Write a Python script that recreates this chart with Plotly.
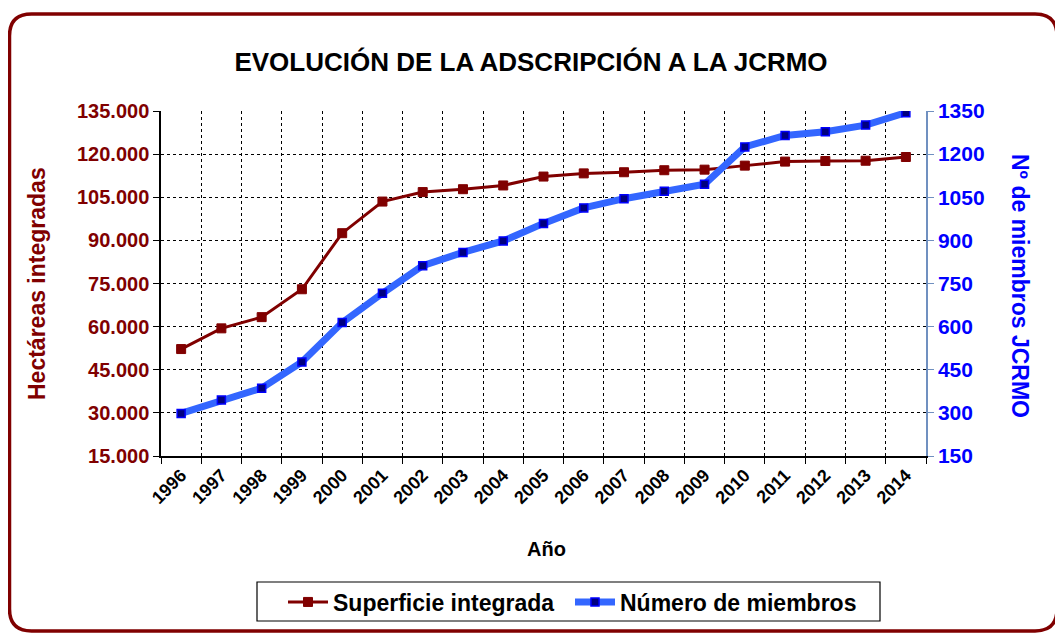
import plotly.graph_objects as go

years = [str(y) for y in range(1996, 2015)]
superficie = [52200, 59400, 63300, 73000, 92500, 103500, 106800, 107800, 109100, 112200,
              113300, 113700, 114400, 114600, 116000, 117400, 117600, 117700, 119000]
miembros = [298, 345, 386, 477, 614, 716, 812, 858, 898, 959,
            1013, 1045, 1071, 1095, 1225, 1265, 1278, 1301, 1344]

left_ticks = [15000, 30000, 45000, 60000, 75000, 90000, 105000, 120000, 135000]
left_ticktext = ["15.000", "30.000", "45.000", "60.000", "75.000", "90.000",
                 "105.000", "120.000", "135.000"]
right_ticks = [150, 300, 450, 600, 750, 900, 1050, 1200, 1350]

# page body has an 8px margin; work in reference (window) pixels and offset
OFF = 8
W, H = 1063 - OFF, 635 - OFF
L, R, T, B = 161, 926, 111, 456
FONT = "Liberation Sans, Arial, sans-serif"
DARKRED = "#800000"
BLUE = "#0000FF"

def px(x):
    return (x - L) / (R - L)

def py(y):
    return (B - y) / (B - T)

fig = go.Figure()
fig.add_trace(go.Scatter(
    x=years, y=superficie, name="Superficie integrada", mode="lines+markers",
    line=dict(color=DARKRED, width=3),
    marker=dict(symbol="square", size=9, color=DARKRED, line=dict(color=DARKRED, width=1)),
    yaxis="y"))
fig.add_trace(go.Scatter(
    x=years, y=miembros, name="Número de miembros", mode="lines+markers",
    line=dict(color="#3366FF", width=7),
    marker=dict(symbol="square", size=8, color="#000080", line=dict(color=BLUE, width=1.5)),
    yaxis="y2"))

# rounded outer border
x0, x1, y0, y1, r = 9.5, 1057, 14, 631, 22
path = (f"M {px(x0+r)},{py(y0)} L {px(x1-r)},{py(y0)} Q {px(x1)},{py(y0)} {px(x1)},{py(y0+r)} "
        f"L {px(x1)},{py(y1-r)} Q {px(x1)},{py(y1)} {px(x1-r)},{py(y1)} "
        f"L {px(x0+r)},{py(y1)} Q {px(x0)},{py(y1)} {px(x0)},{py(y1-r)} "
        f"L {px(x0)},{py(y0+r)} Q {px(x0)},{py(y0)} {px(x0+r)},{py(y0)} Z")

shapes = [
    dict(type="path", xref="paper", yref="paper", path=path,
         line=dict(color=DARKRED, width=3.5), fillcolor="rgba(0,0,0,0)", layer="above"),
    # legend frame
    dict(type="rect", xref="paper", yref="paper", x0=px(257), x1=px(880), y0=py(582), y1=py(621),
         line=dict(color="black", width=1.2), fillcolor="white", layer="below"),
]

annotations = [
    dict(text="<b>Hectáreas integradas</b>", xref="paper", yref="paper", x=px(37), y=py(284),
         textangle=-90, showarrow=False, xanchor="center", yanchor="middle",
         font=dict(family=FONT, size=23, color=DARKRED, weight="bold")),
    dict(text="<b>Nº de miembros JCRMO</b>", xref="paper", yref="paper", x=px(1020), y=py(286),
         textangle=90, showarrow=False, xanchor="center", yanchor="middle",
         font=dict(family=FONT, size=23, color=BLUE, weight="bold")),
    dict(text="<b>Año</b>", xref="paper", yref="paper", x=px(546), y=py(549),
         showarrow=False, xanchor="center", yanchor="middle",
         font=dict(family=FONT, size=20, color="black", weight="bold")),
]

fig.update_layout(
    width=W, height=H,
    margin=dict(l=L - OFF, r=W - (R - OFF), t=T - OFF, b=H - (B - OFF), autoexpand=False),
    paper_bgcolor="white", plot_bgcolor="white",
    title=dict(text="EVOLUCIÓN DE LA ADSCRIPCIÓN A LA JCRMO", x=(531 - OFF) / W, xref="container",
               y=1 - (62 - OFF) / H, yref="container", xanchor="center", yanchor="middle",
               font=dict(family=FONT, size=26, color="black", weight="bold")),
    xaxis=dict(type="category", tickson="boundaries", ticks="outside", ticklen=6,
               tickcolor="black", showline=True, linecolor="black", linewidth=1.5,
               showgrid=True, gridcolor="black", griddash="dot", gridwidth=1,
               tickangle=-45, tickfont=dict(family=FONT, size=18, color="black", weight="bold"),
               range=[-0.5, len(years) - 0.5]),
    yaxis=dict(range=[15000, 135000], tickvals=left_ticks, ticktext=left_ticktext,
               ticks="outside", ticklen=6, tickcolor="black", showline=True,
               linecolor="black", linewidth=1.5, showgrid=True, gridcolor="black",
               griddash="dot", gridwidth=1, zeroline=False,
               tickfont=dict(family=FONT, size=20, color=DARKRED, weight="bold")),
    yaxis2=dict(range=[150, 1350], tickvals=right_ticks, overlaying="y", side="right",
                ticks="outside", ticklen=6, tickcolor="#7090c0", showline=True,
                linecolor="#7090c0", linewidth=1.5, showgrid=False, zeroline=False,
                tickfont=dict(family=FONT, size=21, color=BLUE, weight="bold")),
    legend=dict(orientation="h", x=px(283), y=py(602), xanchor="left", yanchor="middle",
                borderwidth=0, bgcolor="rgba(0,0,0,0)",
                font=dict(family=FONT, size=23, color="black", weight="bold"),
                itemwidth=40, entrywidth=232, entrywidthmode="pixels", tracegroupgap=0),
    shapes=shapes, annotations=annotations, showlegend=True,
)

fig.write_html("out.html")
